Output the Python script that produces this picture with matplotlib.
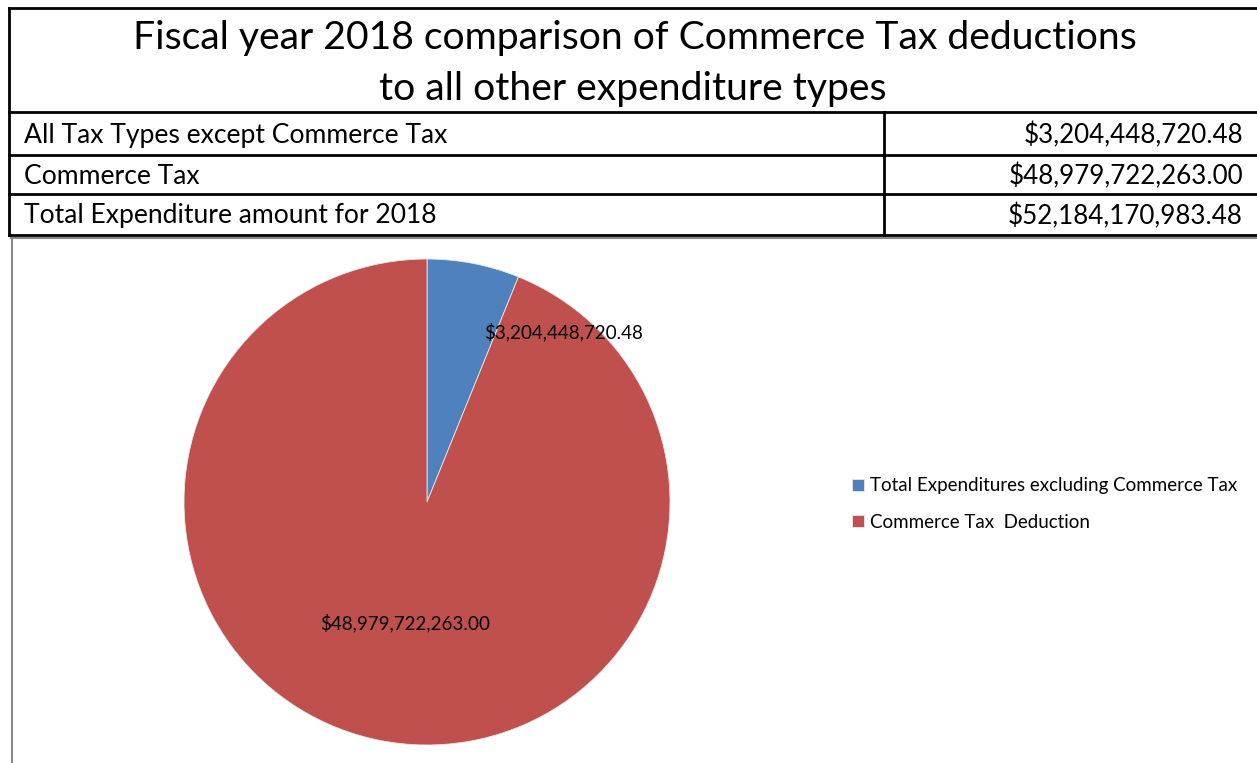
import matplotlib
matplotlib.use("Agg")
import matplotlib.pyplot as plt
from matplotlib.lines import Line2D

# ---- data ----
title_lines = ["Fiscal year 2018 comparison of Commerce Tax deductions",
               "to all other expenditure types"]
table_labels = ["All Tax Types except Commerce Tax",
                "Commerce Tax",
                "Total Expenditure amount for 2018"]
table_values = ["$3,204,448,720.48", "$48,979,722,263.00", "$52,184,170,983.48"]
pie_categories = ["Total Expenditures excluding Commerce Tax",
                  "Commerce Tax  Deduction"]
pie_values = [3204448720.48, 48979722263.00]
pie_value_labels = ["$3,204,448,720.48", "$48,979,722,263.00"]

W, H = 1257, 763
FONT = "Lato"
plt.rcParams['font.family'] = [FONT, 'DejaVu Sans']

fig = plt.figure(figsize=(W / 100, H / 100), dpi=100)

def fx(x):
    return x / W

def fy(y):
    return 1 - y / H

def hline(y, x0, x1, color="black", lw=2.0):
    fig.add_artist(Line2D([fx(x0), fx(x1)], [fy(y), fy(y)], color=color, lw=lw,
                          transform=fig.transFigure))

def vline(x, y0, y1, color="black", lw=2.0):
    fig.add_artist(Line2D([fx(x), fx(x)], [fy(y0), fy(y1)], color=color, lw=lw,
                          transform=fig.transFigure))

# ---- table ----
hline(8, 9, W + 5)
hline(112, 9, W + 5)
hline(155, 9, W + 5)
hline(194, 9, W + 5)
hline(235, 9, W + 5)
vline(9, 8, 235)
vline(884, 112, 235)

fig.text(fx(635), fy(38), title_lines[0], ha="center", va="center", fontsize=28.2)
fig.text(fx(633), fy(89), title_lines[1], ha="center", va="center", fontsize=28.2)

row_centers = [135, 176, 216]
for lab, val, yc in zip(table_labels, table_values, row_centers):
    fig.text(fx(24), fy(yc), lab, ha="left", va="center", fontsize=19.1)
    fig.text(fx(1243), fy(yc), val, ha="right", va="center", fontsize=18.7)

# ---- chart area border ----
hline(237.5, 11, W + 5, color="#888888", lw=1.5)
vline(11.5, 237.5, H + 5, color="#888888", lw=1.5)

# ---- pie ----
cx, cy, r = 427, 502, 243
ax = fig.add_axes([fx(cx - r), fy(cy + r), 2 * r / W, 2 * r / H])
wedges, _ = ax.pie(pie_values, colors=["#4F81BD", "#C0504D"], startangle=90,
                   counterclock=False, radius=1.0,
                   wedgeprops=dict(linewidth=0.6, edgecolor="#e8e8e8"))
ax.set_xlim(-1, 1)
ax.set_ylim(-1, 1)
ax.set_aspect("equal")
ax.axis("off")

label_pos = [(0.56, 0.70), (-0.09, -0.50)]
for txt, (px, py) in zip(pie_value_labels, label_pos):
    ax.text(px, py, txt, ha="center", va="center", fontsize=13.6, color="black")

leg = fig.legend(wedges, pie_categories, loc="center left",
                 bbox_to_anchor=(fx(843), fy(504)), frameon=False,
                 fontsize=13.5, handlelength=0.6, handleheight=0.6,
                 handletextpad=0.35, labelspacing=1.05, borderpad=0)

fig.savefig("out.png", dpi=100)
